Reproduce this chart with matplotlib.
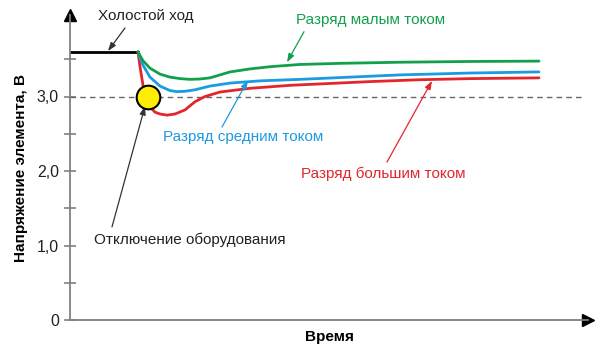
import matplotlib.pyplot as plt
import numpy as np

plt.rcParams['font.family'] = ['Liberation Sans', 'DejaVu Sans']

# time in arbitrary units (0..518), voltage in volts
idle_t = [0, 68]
idle_v = [3.60, 3.60]

green_t = [68, 70, 73, 80, 90, 100, 110, 120, 130, 140, 150, 160, 180, 200, 230, 270, 330, 400, 469]
green_v = [3.60, 3.55, 3.48, 3.38, 3.30, 3.26, 3.24, 3.23, 3.235, 3.25, 3.29, 3.33, 3.37, 3.40, 3.43, 3.445, 3.46, 3.47, 3.475]

blue_t = [68, 70, 73, 80, 90, 100, 107, 115, 125, 140, 160, 190, 230, 280, 330, 400, 469]
blue_v = [3.60, 3.52, 3.42, 3.26, 3.14, 3.08, 3.065, 3.07, 3.09, 3.14, 3.18, 3.21, 3.23, 3.26, 3.29, 3.315, 3.33]

red_t = [68, 70, 73, 76, 80, 85, 90, 97, 105, 115, 125, 135, 150, 180, 220, 260, 300, 350, 400, 469]
red_v = [3.60, 3.40, 3.15, 2.98, 2.86, 2.79, 2.765, 2.75, 2.765, 2.82, 2.93, 3.00, 3.06, 3.11, 3.15, 3.175, 3.20, 3.225, 3.24, 3.25]

yticks = [0, 1, 2, 3]
ytick_labels = ['0', '1,0', '2,0', '3,0']
minor_yticks = [0.5, 1.5, 2.5, 3.5]

cut_off = (78, 3.0)

# label text, text position, arrow tail, arrow head, colour
labels = [
    ('Холостой ход', (76, 4.08), (55, 3.92), (38, 3.61), '#222222'),
    ('Разряд малым током', (301, 4.03), (234, 3.87), (217, 3.46), '#12a04c'),
    ('Разряд средним током', (173, 2.46), (152, 2.59), (178, 3.22), '#1b9be0'),
    ('Разряд большим током', (313, 1.96), (317, 2.12), (362, 3.21), '#e3262c'),
    ('Отключение оборудования', (120, 1.07), (42, 1.25), (75, 2.87), '#222222'),
]

fig = plt.figure(figsize=(6, 3.55), dpi=100)
ax = fig.add_axes([70 / 600, 35 / 355, 518 / 600, 305 / 355])
ax.set_xlim(0, 518)
ax.set_ylim(0, 305 / 74.5)

for s in ['top', 'right']:
    ax.spines[s].set_visible(False)
for s in ['left', 'bottom']:
    ax.spines[s].set_color('#808080')
    ax.spines[s].set_linewidth(1.3)

# axis arrows
ax.plot(1, 0, '>', color='black', markersize=8, transform=ax.transAxes, clip_on=False)
ax.plot(0, 1, '^', color='black', markersize=8, transform=ax.transAxes, clip_on=False)

ax.set_xticks([])
ax.set_yticks(yticks)
ax.set_yticklabels(ytick_labels, fontsize=11.5, color='#222222')
ax.set_yticks(minor_yticks, minor=True)
ax.tick_params(axis='y', which='both', direction='inout', length=8, width=1.2, color='#808080', pad=4)

ax.axhline(3.0, xmin=0, xmax=515 / 518, color='#666666', lw=1, ls=(0, (4, 3)))

ax.plot(idle_t, idle_v, color='black', lw=2)
ax.plot(red_t, red_v, color='#e3262c', lw=2, solid_capstyle='round')
ax.plot(blue_t, blue_v, color='#1b9be0', lw=2, solid_capstyle='round')
ax.plot(green_t, green_v, color='#12a04c', lw=2, solid_capstyle='round')

ax.plot(*cut_off, 'o', markersize=17, markerfacecolor='#ffee00', markeredgecolor='black', markeredgewidth=1.5, zorder=5)

for text, pos, tail, head, col in labels:
    ax.text(pos[0], pos[1], text, fontsize=11, ha='center', va='center', color=col)
    arrow_col = '#333333' if col == '#222222' else col
    ax.annotate('', xy=head, xytext=tail,
                arrowprops=dict(arrowstyle='-|>,head_length=0.5,head_width=0.18', color=arrow_col,
                                lw=0.9, shrinkA=0, shrinkB=0))

ax.set_ylabel('Напряжение элемента, В', fontsize=11, fontweight='bold', labelpad=6)
ax.set_xlabel('Время', fontsize=11, fontweight='bold', labelpad=7)

fig.savefig('out.png', dpi=100)
